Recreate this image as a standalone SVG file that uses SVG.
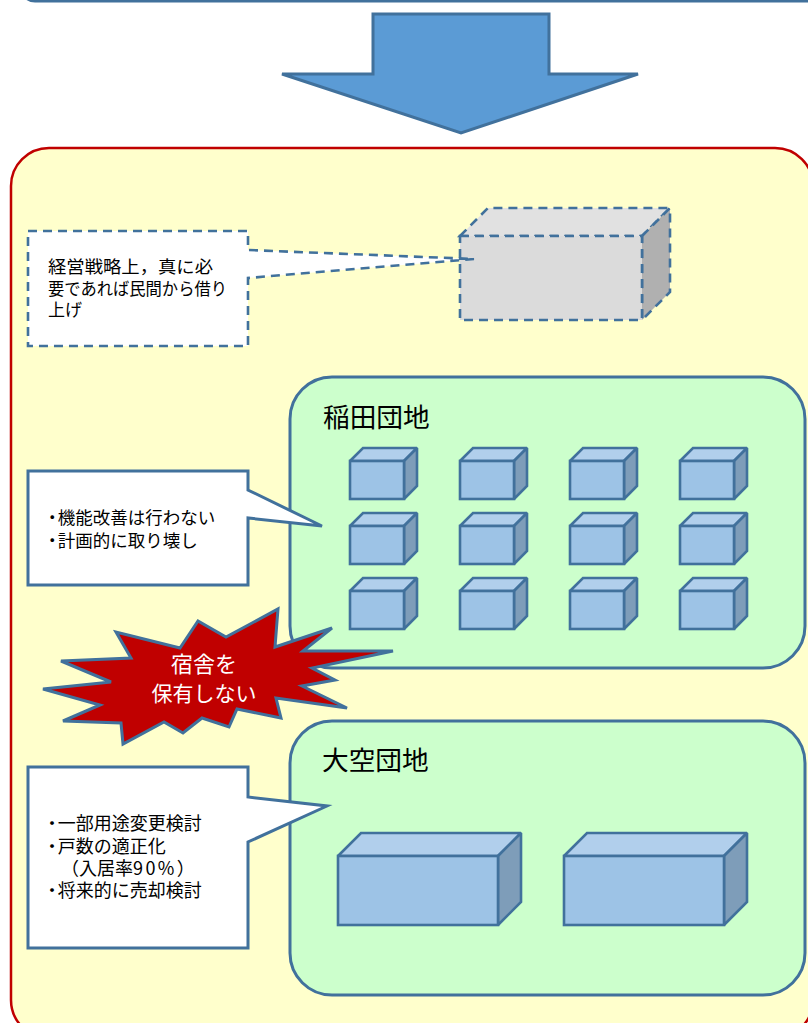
<svg xmlns="http://www.w3.org/2000/svg" width="808" height="1023" viewBox="0 0 808 1023">
<style>
text{font-family:"Noto Sans CJK JP","Noto Sans",sans-serif;fill:#000}
.ln{stroke:#41719c;stroke-width:3;stroke-linejoin:miter}
.cube{stroke:#41719c;stroke-width:2.6;stroke-linejoin:miter;stroke-miterlimit:2}
.dash{stroke-dasharray:9 6;stroke-width:2.6}
.face{fill:#9dc3e6}.top{fill:#b1cfec}.side{fill:#7e9db9}
.green{fill:#ccffcc}
.call{fill:#fff}
.t{font-size:17.5px}.u{font-size:18px}.h{font-size:26.7px}
</style>
<defs>
<g id="small" class="cube">
<path class="top" d="M0 13L13 0H67L54 13Z"/>
<path class="side" d="M54 13L67 0V38L54 51Z"/>
<rect class="face" x="0" y="13" width="54" height="38"/>
</g>
<g id="large" class="cube">
<path class="top" d="M0 23L23 0H183L160 23Z"/>
<path class="side" d="M160 23L183 0V69L160 92Z"/>
<rect class="face" x="0" y="23" width="160" height="69"/>
</g>
</defs>
<g id="top-panel"><rect class="ln" x="21" y="-60" width="800" height="61" rx="14" fill="#fff"/></g>
<g id="down-arrow"><path class="ln" stroke-miterlimit="2" fill="#5b9bd5" d="M373 14H549V74H638L461 133L282 74H373Z"/></g>
<g id="main-panel"><rect x="11" y="148" width="802" height="890" rx="38" fill="#ffffcc" stroke="#c00000" stroke-width="2.5"/></g>
<g id="rental-box" class="ln dash">
<path fill="#e1e1e1" d="M460 236L488 208H670L642 236Z"/>
<path fill="#b0b0b0" d="M642 236L670 208V292L642 320Z"/>
<rect fill="#dbdbdb" x="460" y="236" width="182" height="84"/>
</g>
<g id="rental-note">
<path class="ln dash call" d="M28 231H248V250L474 259L248 278V346H28Z"/>
<text class="t"><tspan x="48" y="273" textLength="165" lengthAdjust="spacingAndGlyphs">経営戦略上，真に必</tspan><tspan x="48" y="295" textLength="179" lengthAdjust="spacingAndGlyphs">要であれば民間から借り</tspan><tspan x="48" y="316" textLength="34" lengthAdjust="spacingAndGlyphs">上げ</tspan></text>
</g>
<g id="inada">
<rect class="ln green" x="290" y="377" width="515" height="291" rx="42"/>
<text class="h" x="323" y="427">稲田団地</text>
<use href="#small" x="350" y="448"/><use href="#small" x="460" y="448"/><use href="#small" x="570" y="448"/><use href="#small" x="680" y="448"/>
<use href="#small" x="350" y="513"/><use href="#small" x="460" y="513"/><use href="#small" x="570" y="513"/><use href="#small" x="680" y="513"/>
<use href="#small" x="350" y="578"/><use href="#small" x="460" y="578"/><use href="#small" x="570" y="578"/><use href="#small" x="680" y="578"/>
</g>
<g id="inada-note">
<path class="ln call" d="M28 471H248V490L322 526L248 518V585H28Z"/>
<text class="t" x="43.5" y="524"><tspan letter-spacing="-3.3">・</tspan>機能改善は行わない</text>
<text class="t" x="43.5" y="547"><tspan letter-spacing="-3.3">・</tspan>計画的に取り壊し</text>
</g>
<g id="ozora">
<rect class="ln green" x="290" y="721" width="515" height="274" rx="42"/>
<text class="h" x="322" y="770">大空団地</text>
<use href="#large" x="338" y="833"/><use href="#large" x="564" y="833"/>
</g>
<g id="ozora-note">
<path class="ln call" d="M28 767H248V797L327 806L248 842V948H28Z"/>
<text class="u" x="43" y="830"><tspan letter-spacing="-3.3">・</tspan>一部用途変更検討</text>
<text class="u" x="43" y="853"><tspan letter-spacing="-3.3">・</tspan>戸数の適正化</text>
<text class="u" x="61" y="875">（入居率<tspan letter-spacing="2.4">90%</tspan>）</text>
<text class="u" x="43" y="897"><tspan letter-spacing="-3.3">・</tspan>将来的に売却検討</text>
</g>
<g id="burst">
<path fill="#c00000" stroke="#41719c" stroke-width="3" stroke-linejoin="miter" d="M278 609L275 647L332 628L303 651L393 651L312 668L335 680L302 686L347 708L276 698L281 718L237 709L229 727L202 718L183 733L164 722L123 744L121 723L63 721L100 705L43 689L111 682L61 661L131 658L116 632L180 648L198 621L226 637Z"/>
<text x="204" y="672" text-anchor="middle" style="font-size:22px;fill:#fff">宿舎を</text>
<text x="204" y="701" text-anchor="middle" style="font-size:21px;fill:#fff">保有しない</text>
</g>
</svg>
